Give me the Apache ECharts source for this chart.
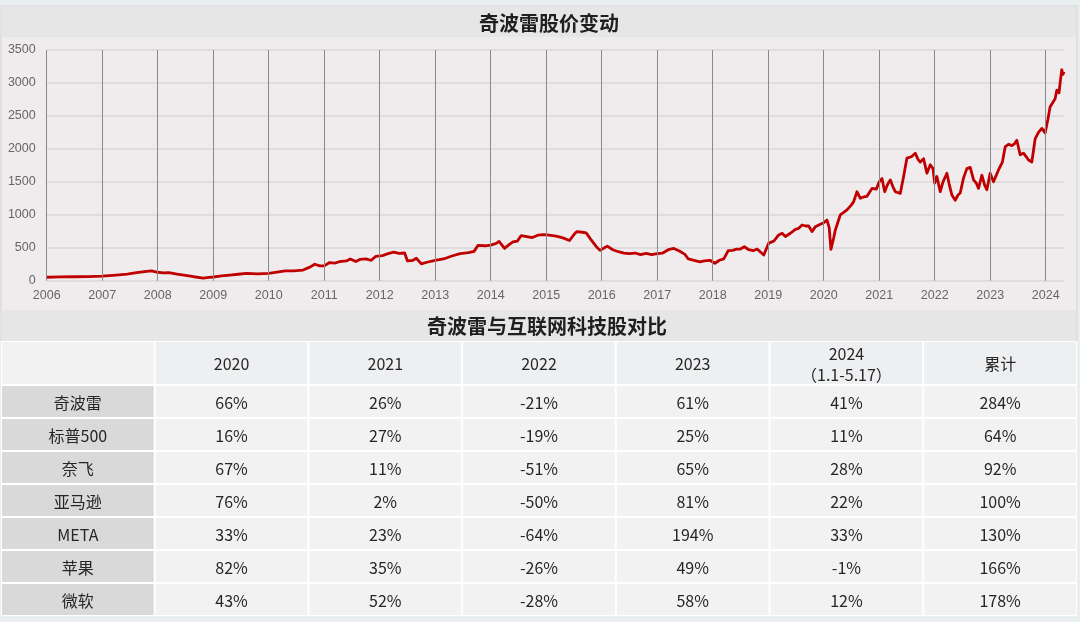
<!DOCTYPE html>
<html><head><meta charset="utf-8">
<script src="https://cdn.jsdelivr.net/npm/echarts@6/dist/echarts.min.js"></script>
<style>html,body{margin:0;padding:0;background:#e9eef0;}#c{width:1080px;height:622px;}</style>
</head><body><div id="c"></div>
<script>
// ---- price series (fractional year, price) ----
const priceYears = [
2006.00,2006.25,2006.50,2006.75,2007.00,2007.25,2007.45,2007.62,2007.80,2007.89,
2008.00,2008.10,2008.20,2008.35,2008.50,2008.65,2008.82,2008.92,2009.00,2009.15,
2009.30,2009.45,2009.60,2009.80,2010.00,2010.15,2010.30,2010.45,2010.62,2010.75,
2010.83,2010.92,2011.00,2011.09,2011.20,2011.27,2011.40,2011.47,2011.57,2011.65,
2011.75,2011.85,2011.93,2012.05,2012.15,2012.25,2012.35,2012.45,2012.50,2012.60,
2012.66,2012.75,2012.85,2013.00,2013.15,2013.30,2013.45,2013.60,2013.70,2013.77,
2013.90,2014.00,2014.10,2014.15,2014.25,2014.32,2014.40,2014.48,2014.55,2014.65,
2014.75,2014.85,2014.95,2015.05,2015.18,2015.30,2015.42,2015.50,2015.55,2015.65,
2015.72,2015.80,2015.90,2015.97,2016.05,2016.10,2016.20,2016.30,2016.40,2016.50,
2016.60,2016.70,2016.80,2016.90,2017.00,2017.10,2017.20,2017.30,2017.40,2017.50,
2017.56,2017.70,2017.77,2017.85,2017.95,2018.04,2018.12,2018.20,2018.28,2018.36,
2018.43,2018.50,2018.57,2018.65,2018.73,2018.80,2018.88,2018.92,2019.01,2019.10,
2019.19,2019.25,2019.31,2019.40,2019.49,2019.55,2019.61,2019.68,2019.73,2019.79,
2019.85,2019.92,2020.00,2020.06,2020.10,2020.13,2020.18,2020.21,2020.30,2020.42,
2020.50,2020.54,2020.60,2020.66,2020.72,2020.78,2020.87,2020.95,2021.00,2021.05,
2021.10,2021.15,2021.20,2021.25,2021.29,2021.38,2021.44,2021.50,2021.58,2021.65,
2021.70,2021.74,2021.80,2021.83,2021.86,2021.92,2021.97,2022.00,2022.04,2022.10,
2022.15,2022.22,2022.26,2022.31,2022.37,2022.42,2022.46,2022.52,2022.58,2022.64,
2022.67,2022.70,2022.75,2022.79,2022.85,2022.90,2022.94,2023.00,2023.06,2023.15,
2023.22,2023.27,2023.33,2023.39,2023.44,2023.48,2023.54,2023.60,2023.65,2023.69,
2023.75,2023.81,2023.87,2023.93,2023.99,2024.04,2024.08,2024.14,2024.17,2024.20,
2024.24,2024.26,2024.29,2024.31,2024.33
];
const prices = [
52,58,60,62,70,86,100,121,140,150,
128,118,122,100,82,60,40,50,56,72,
86,98,110,105,112,130,150,148,162,210,
250,225,225,273,268,288,300,330,290,325,
330,310,370,380,410,432,415,420,300,310,
340,255,280,310,330,375,410,425,445,535,
530,540,565,595,490,540,590,600,685,670,
655,690,700,690,675,650,610,700,745,735,
725,630,520,460,500,525,470,440,420,410,
420,395,415,395,410,420,470,490,450,400,
330,300,285,300,310,265,310,330,455,460,
480,480,515,470,455,480,420,390,570,600,
695,720,670,720,780,795,845,830,830,745,
820,850,880,920,800,475,650,770,1000,1075,
1150,1200,1350,1250,1270,1280,1400,1390,1500,1550,
1350,1460,1530,1420,1350,1325,1580,1860,1880,1935,
1840,1800,1850,1860,1630,1760,1700,1480,1580,1350,
1500,1630,1470,1300,1220,1300,1330,1560,1700,1720,
1730,1530,1480,1400,1600,1450,1380,1630,1500,1680,
1800,2030,2070,2050,2080,2130,1910,1935,1880,1830,
1800,2150,2250,2310,2240,2450,2640,2720,2760,2890,
2850,3000,3200,3130,3170
];
const yearTicks = [2006,2007,2008,2009,2010,2011,2012,2013,2014,2015,2016,2017,2018,2019,2020,2021,2022,2023,2024];
const priceTicks = [0,500,1000,1500,2000,2500,3000,3500];

// ---- comparison table ----
const periods = ['2020','2021','2022','2023','2024\n（1.1-5.17）','累计'];
const companies = ['奇波雷','标普500','奈飞','亚马逊','META','苹果','微软'];
const retChipotle = [66,26,-21,61,41,284];
const retSP500    = [16,27,-19,25,11,64];
const retNetflix  = [67,11,-51,65,28,92];
const retAmazon   = [76,2,-50,81,22,100];
const retMeta     = [33,23,-64,194,33,130];
const retApple    = [82,35,-26,49,-1,166];
const retMicrosoft= [43,52,-28,58,12,178];
const returnRows = [retChipotle,retSP500,retNetflix,retAmazon,retMeta,retApple,retMicrosoft];

const FONT = '"Noto Sans CJK SC", "Noto Sans", sans-serif';
const colNames = [''].concat(periods);

const headerCells = colNames.map((t,i)=>({value:[i,0], text:t, fill: i===0 ? '#f2f2f2' : '#eeeff1'}));
const bodyCells = [];
companies.forEach((name,r)=>{
  bodyCells.push({value:[0,r], text:name, fill:'#d9d9d9'});
  returnRows[r].forEach((v,c)=>bodyCells.push({value:[c+1,r], text: v + '%', fill:'#f2f2f2'}));
});

function cellRenderer(cells){
  return function(params, api){
    const c = api.coord([api.value(0), api.value(1)]);
    const s = api.size([1,1]);
    const it = cells[params.dataIndex];
    return {type:'group', children:[
      {type:'rect', shape:{x:c[0]-s[0]/2+1, y:c[1]-s[1]/2+1, width:s[0]-2, height:s[1]-2}, style:{fill:it.fill}},
      {type:'text', style:{text:it.text, x:c[0], y:c[1]+1, align:'center', verticalAlign:'middle',
        fill:'#262626', fontSize:16, fontFamily:FONT, lineHeight:21}}
    ]};
  };
}

const chart = echarts.init(document.getElementById('c'));
chart.setOption({
  animation:false,
  backgroundColor:'#e9eef0',
  graphic:{elements:[
    {type:'rect', z:-20, shape:{x:1,y:6,width:1076,height:335}, style:{fill:'#f0ecee', stroke:'#d3d3d3', lineWidth:1}},
    {type:'rect', z:-19, shape:{x:1.5,y:6.5,width:1075,height:30.5}, style:{fill:'#e6e6e6'}},
    {type:'rect', z:-19, shape:{x:1.5,y:310,width:1075,height:31}, style:{fill:'#e6e6e6'}},
    {type:'rect', z:-19, shape:{x:1,y:341,width:1076,height:275}, style:{fill:'#ffffff'}}
  ]},
  title:[
    {text:'奇波雷股价变动', left:474, top:8, textStyle:{fontSize:20, fontWeight:'bold', color:'#1f1f1f', fontFamily:FONT}},
    {text:'奇波雷与互联网科技股对比', left:422, top:311, textStyle:{fontSize:20, fontWeight:'bold', color:'#1f1f1f', fontFamily:FONT}}
  ],
  grid:[
    {left:46.7, top:50, width:1017.3, height:230.7},
    {left:1, top:341, width:1076, height:44},
    {left:1, top:385, width:1076, height:231}
  ],
  xAxis:[
    {gridIndex:0, type:'value', min:2006, max:2024.33, interval:1,
      axisLine:{show:false}, axisTick:{show:false}, splitLine:{show:false},
      axisLabel:{margin:8, color:'#666666', fontSize:12.5, fontFamily:'"Liberation Sans", Arial, sans-serif',
        formatter:v=> yearTicks.indexOf(v)>=0 ? String(v) : ''}},
    {gridIndex:1, type:'category', data:colNames, show:false},
    {gridIndex:2, type:'category', data:colNames, show:false}
  ],
  yAxis:[
    {gridIndex:0, type:'value', min:priceTicks[0], max:priceTicks[priceTicks.length-1], interval:500,
      axisLine:{show:false}, axisTick:{show:false},
      splitLine:{lineStyle:{color:'#d9d9d9', width:1.5}},
      axisLabel:{margin:11, color:'#666666', fontSize:12.5, fontFamily:'"Liberation Sans", Arial, sans-serif',
        formatter:v=> String(v)}},
    {gridIndex:1, type:'category', data:['表头'], show:false},
    {gridIndex:2, type:'category', data:companies, inverse:true, show:false}
  ],
  series:[
    {type:'line', xAxisIndex:0, yAxisIndex:0, data:[], z:1, silent:true,
      markLine:{silent:true, symbol:'none', label:{show:false},
        lineStyle:{color:'#8a8a8a', width:1, type:'solid'},
        data:yearTicks.map(y=>({xAxis:y}))}},
    {type:'line', xAxisIndex:0, yAxisIndex:0, z:3, showSymbol:false, symbol:'none',
      lineStyle:{color:'#c00000', width:2.8, join:'round'}, itemStyle:{color:'#c00000'},
      data:priceYears.map((y,i)=>[y, prices[i]])},
    {type:'custom', xAxisIndex:1, yAxisIndex:1, renderItem:cellRenderer(headerCells), data:headerCells.map(c=>c.value)},
    {type:'custom', xAxisIndex:2, yAxisIndex:2, renderItem:cellRenderer(bodyCells), data:bodyCells.map(c=>c.value)}
  ]
});
</script></body></html>
